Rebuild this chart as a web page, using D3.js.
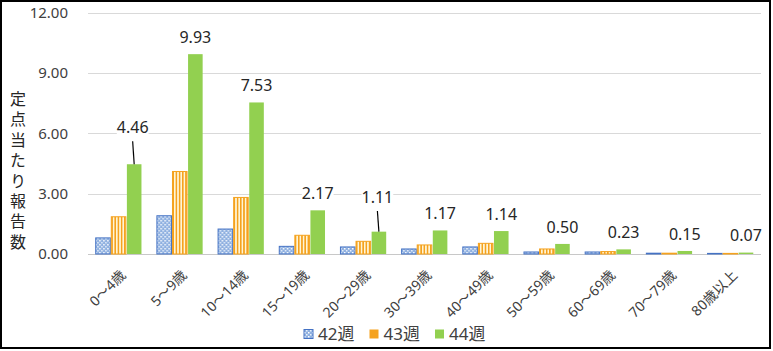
<!DOCTYPE html>
<html lang="ja">
<head>
  <meta charset="UTF-8">
  <title>年齢群別 定点当たり報告数</title>
  <script src="https://d3js.org/d3.v7.min.js"></script>
  <style>
    body { margin: 0; background: #fff; }
    svg { display: block; font-family: "Noto Sans", "Noto Sans CJK JP", sans-serif; }
    .tick-label { font-size: 15px; fill: #404040; }
    .cat-label { font-size: 14px; fill: #404040; }
    .value-label { font-size: 16px; fill: #262626; }
    .y-title {
      font-size: 16px; fill: #262626; font-family: "Noto Sans CJK JP", sans-serif;
      writing-mode: vertical-rl; text-orientation: upright; letter-spacing: 4.4px;
    }
    .legend text { font-size: 17px; fill: #404040; }
  </style>
</head>
<body>
  <svg width="773" height="351"></svg>

  <script>
    // Data
    const categories = ["0～4歳", "5～9歳", "10～14歳", "15～19歳", "20～29歳", "30～39歳",
                        "40～49歳", "50～59歳", "60～69歳", "70～79歳", "80歳以上"];
    const seriesNames = ["42週", "43週", "44週"];
    const week42 = [0.80, 1.90, 1.24, 0.38, 0.35, 0.25, 0.35, 0.10, 0.10, 0.04, 0.03];
    const week43 = [1.85, 4.10, 2.81, 0.93, 0.63, 0.45, 0.53, 0.25, 0.12, 0.04, 0.03];
    const week44 = [4.46, 9.93, 7.53, 2.17, 1.11, 1.17, 1.14, 0.50, 0.23, 0.15, 0.07];
    const yTicks = [0, 3, 6, 9, 12];
    const yTitle = "定点当たり報告数";

    const seriesValues = [week42, week43, week44];

    const svg = d3.select("svg");
    const width = 773, height = 351;

    // Outer chart frame
    svg.append("rect")
      .attr("x", 1).attr("y", 1)
      .attr("width", width - 4).attr("height", height - 4)
      .attr("fill", "#fff")
      .attr("stroke", "#000")
      .attr("stroke-width", 2);

    // Patterns for the 42 and 43 week bars
    const defs = svg.append("defs");
    const dots = defs.append("pattern")
      .attr("id", "pat42")
      .attr("patternUnits", "userSpaceOnUse")
      .attr("width", 4).attr("height", 4);
    dots.append("rect").attr("width", 4).attr("height", 4).attr("fill", "#8fb0e0");
    dots.append("rect").attr("x", 0).attr("y", 0).attr("width", 1.5).attr("height", 1.5).attr("fill", "#fff");
    dots.append("rect").attr("x", 2).attr("y", 2).attr("width", 1.5).attr("height", 1.5).attr("fill", "#e8f0fb");

    const stripes = defs.append("pattern")
      .attr("id", "pat43")
      .attr("patternUnits", "userSpaceOnUse")
      .attr("width", 3.2).attr("height", 4);
    stripes.append("rect").attr("width", 3.2).attr("height", 4).attr("fill", "#fff5d6");
    stripes.append("rect").attr("x", 0).attr("width", 1.6).attr("height", 4).attr("fill", "#f5a21e");

    const fills = ["url(#pat42)", "url(#pat43)", "#92d050"];
    const strokes = ["#4472c4", "#f5a21e", "none"];
    const legendFills = ["url(#pat42)", "#f5a21e", "#92d050"];

    // Scales
    const x = d3.scaleBand()
      .domain(categories)
      .range([88, 761])
      .paddingInner(0.236)
      .paddingOuter(0.118);

    const xs = d3.scaleBand()
      .domain(seriesNames)
      .range([0, x.bandwidth()]);

    const y = d3.scaleLinear()
      .domain([0, 12])
      .range([254, 12.5]);

    // Gridlines
    svg.append("g")
      .selectAll("line")
      .data(yTicks)
      .join("line")
      .attr("x1", 88).attr("x2", 761)
      .attr("y1", d => Math.round(y(d)) + 0.5)
      .attr("y2", d => Math.round(y(d)) + 0.5)
      .attr("stroke", d => d === 0 ? "#c8c8c8" : "#d9d9d9")
      .attr("stroke-width", 1.2);

    // Y tick labels
    svg.append("g")
      .selectAll("text")
      .data(yTicks)
      .join("text")
      .attr("class", "tick-label")
      .attr("x", 68)
      .attr("y", d => y(d))
      .attr("dy", "0.35em")
      .attr("text-anchor", "end")
      .text(d => d3.format(".2f")(d));

    // Y title, written vertically
    svg.append("text")
      .attr("class", "y-title")
      .attr("x", 18)
      .attr("y", 91)
      .text(yTitle);

    // Bars
    const groups = svg.append("g")
      .selectAll("g")
      .data(categories)
      .join("g")
      .attr("transform", d => `translate(${x(d)},0)`);

    groups.selectAll("rect")
      .data((c, ci) => seriesNames.map((s, si) => ({ s, si, v: seriesValues[si][ci] })))
      .join("rect")
      .attr("x", d => xs(d.s) + 0.5)
      .attr("y", d => y(d.v))
      .attr("width", xs.bandwidth() - 1)
      .attr("height", d => y(0) - y(d.v))
      .attr("fill", d => fills[d.si])
      .attr("stroke", d => strokes[d.si])
      .attr("stroke-width", 1);

    // Value labels on the 44 week bars; two were dragged up with leader lines
    const draggedLabels = { "0～4歳": 6.3, "20～29歳": 2.83 };
    const labels = svg.append("g");
    categories.forEach((c, i) => {
      const v = week44[i];
      const cx = x(c) + xs("44週") + xs.bandwidth() / 2;
      const dragged = draggedLabels[c];
      const ly = dragged !== undefined ? y(dragged) : y(v) - 17;
      const lx = dragged !== undefined ? cx - 1.5 : cx;
      const g = labels.append("g");
      const bg = g.append("rect").attr("fill", "#fff");
      const t = g.append("text")
        .attr("class", "value-label")
        .attr("x", lx)
        .attr("y", ly)
        .attr("dy", "0.35em")
        .attr("text-anchor", "middle")
        .text(d3.format(".2f")(v));
      const b = t.node().getBBox();
      bg.attr("x", b.x).attr("y", b.y + 3).attr("width", b.width).attr("height", b.height - 6);
      if (dragged !== undefined) {
        g.append("line")
          .attr("x1", cx - 1.5).attr("y1", ly + 14)
          .attr("x2", cx).attr("y2", y(v))
          .attr("stroke", "#000")
          .attr("stroke-width", 1.2);
      }
    });

    // Category labels, rotated
    svg.append("g")
      .selectAll("text")
      .data(categories)
      .join("text")
      .attr("class", "cat-label")
      .attr("text-anchor", "end")
      .attr("transform", d => `translate(${x(d) + x.bandwidth() / 2 + 8},${276}) rotate(-45)`)
      .text(d => d);

    // Legend
    const legend = svg.append("g").attr("class", "legend");
    seriesNames.forEach((s, i) => {
      const lx = 304 + i * 65.5;
      legend.append("rect")
        .attr("x", lx).attr("y", 329.5)
        .attr("width", 9).attr("height", 9)
        .attr("fill", legendFills[i])
        .attr("stroke", i === 0 ? "#4472c4" : "none");
      legend.append("text")
        .attr("x", lx + 14)
        .attr("y", 340)
        .text(s);
    });
  </script>
</body>
</html>
